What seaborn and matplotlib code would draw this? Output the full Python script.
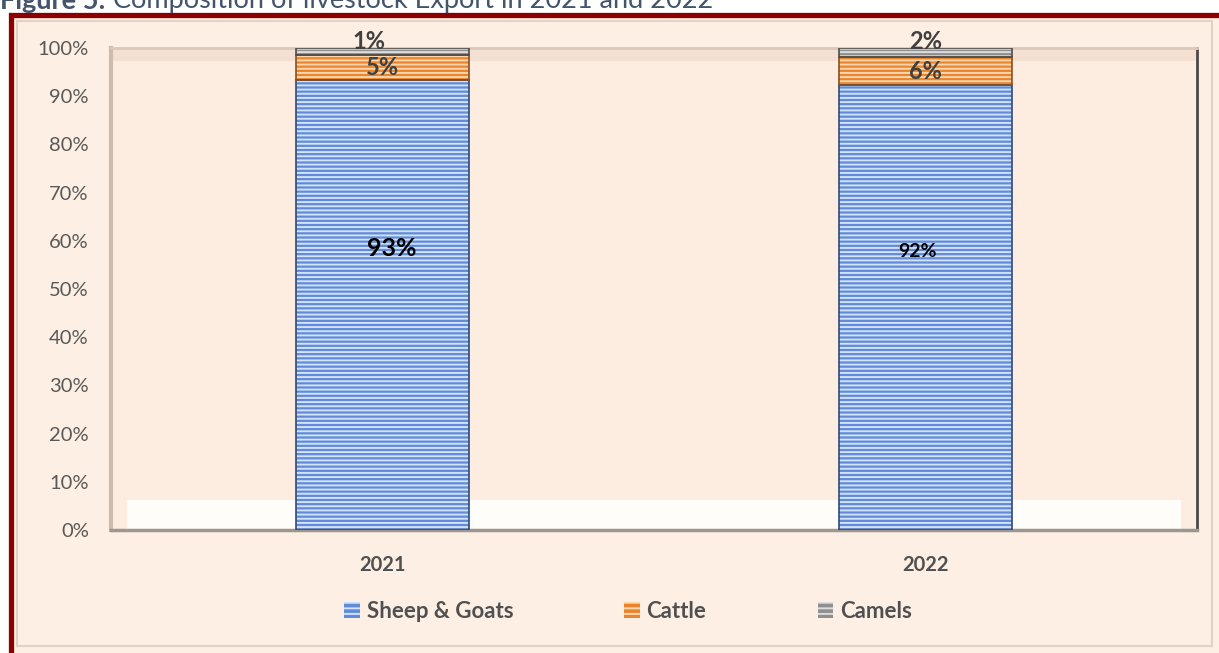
import matplotlib
matplotlib.use("Agg")
import matplotlib.pyplot as plt
import seaborn as sns
from matplotlib.patches import Rectangle, Patch

# ---------------- data ----------------
years = ["2021", "2022"]
series = ["Sheep & Goats", "Cattle", "Camels"]
sheep_goats = [93.4, 92.3]
cattle = [5.2, 5.9]
camels = [1.4, 1.8]
y_ticks = [0, 10, 20, 30, 40, 50, 60, 70, 80, 90, 100]
y_tick_labels = [f"{t}%" for t in y_ticks]
title_bold = "Figure 5:"
title_rest = "Composition of livestock Export in 2021 and 2022"

# ---------------- style ----------------
sns.set_style("white")
plt.rcParams["font.family"] = ["Lato", "DejaVu Sans"]
plt.rcParams["hatch.linewidth"] = 1.4

W, H = 1219, 653
def fx(px):
    return px / W
def fy(py):
    return 1 - py / H

face_cols = ["#5F8BD8", "#E8852F", "#8F8F8F"]
stripe_cols = ["#D3E2F9", "#FDD6AE", "#DCDCDC"]
outline_cols = ["#2F4A78", "#8A4E1E", "#4D4D4D"]
HATCH = "----"
BAR_W = 0.317
TXT = "#595959"

fig = plt.figure(figsize=(W / 100, H / 100), dpi=100, facecolor="white")

# outer dark red frame with beige panel
fig.patches.append(Rectangle((fx(10.5), -0.2), 1.3, fy(15) + 0.2, transform=fig.transFigure,
                             facecolor="#FDEFE3", edgecolor="#8B0000", linewidth=3.8, zorder=-2))
fig.patches.append(Rectangle((fx(17), fy(646)), fx(1212) - fx(17), fy(21) - fy(646),
                             transform=fig.transFigure, facecolor="none",
                             edgecolor="#E2D2C6", linewidth=1.5, zorder=-1))

ax = fig.add_axes([fx(111), fy(530), fx(1197) - fx(111), fy(48) - fy(530)])
ax.set_facecolor("#FCEDE0")
# floor and top bevel of the 3-D plot area
ax.axhspan(0, 6.2, xmin=0.015, xmax=0.985, color="#FFFDF9", zorder=0.2, lw=0)
ax.axhspan(97.2, 100, xmin=0.0, xmax=1.0, color="#F4E0D2", zorder=0.2, lw=0)

bottoms = [0.0] * len(years)
layers = [sheep_goats, cattle, camels]
for i, vals in enumerate(layers):
    sns.barplot(x=years, y=vals, bottom=bottoms, color=face_cols[i], saturation=1,
                width=BAR_W, edgecolor=stripe_cols[i], linewidth=0, hatch=HATCH,
                ax=ax, zorder=2)
    ax.bar(range(len(years)), vals, bottom=bottoms, width=BAR_W, fill=False,
           edgecolor=outline_cols[i], linewidth=1.2, zorder=3)
    bottoms = [b + v for b, v in zip(bottoms, vals)]

# data labels
tops = [s + c for s, c in zip(sheep_goats, cattle)]
for j in range(len(years)):
    ax.annotate(f"{sheep_goats[j]:.0f}%", xy=(j, sheep_goats[j] * 0.625), xytext=([7, -6][j], 0),
                textcoords="offset points", ha="center", va="center",
                fontsize=[18, 14][j], fontweight="bold", color="black", zorder=5)
    ax.annotate(f"{cattle[j]:.0f}%", xy=(j, sheep_goats[j] + cattle[j] / 2), xytext=(0, -0.5),
                textcoords="offset points", ha="center", va="center",
                fontsize=17, fontweight="bold", color="#404040", zorder=5)
    ax.annotate(f"{camels[j]:.0f}%", xy=(j, tops[j] + camels[j]), xytext=([-10, 0][j], 5),
                textcoords="offset points", ha="center", va="center",
                fontsize=17, fontweight="bold", color="#404040", zorder=5, annotation_clip=False)

ax.set_ylim(0, 100)
ax.set_xlim(-0.5, 1.5)
ax.set_yticks(y_ticks)
ax.set_yticklabels(y_tick_labels, fontsize=14.5, color=TXT)
ax.tick_params(axis="y", length=0, pad=16)
ax.tick_params(axis="x", length=0, pad=18, labelsize=14.5, labelcolor="#505050")
for lab in ax.get_xticklabels():
    lab.set_fontweight("bold")
ax.set_xlabel("")
ax.set_ylabel("")
for side, col, lw in [("left", "#CDBBAE", 3), ("bottom", "#9E9690", 2.5),
                      ("right", "#4A4A4A", 2), ("top", "#DCC8BA", 2)]:
    ax.spines[side].set_visible(True)
    ax.spines[side].set_color(col)
    ax.spines[side].set_linewidth(lw)

# legend
handles = [Patch(facecolor=face_cols[i], edgecolor=stripe_cols[i], hatch="---", linewidth=0)
           for i in range(len(series))]
fig.legend(handles, series, loc="center", bbox_to_anchor=(fx(628), fy(611)), ncol=3,
           frameon=False, prop={"weight": "bold", "size": 16}, labelcolor="#505050",
           handlelength=0.7, handleheight=0.7, handletextpad=0.3, columnspacing=5.0)

# title (partially cut off at the top, as in the source)
t1 = fig.text(fx(0), fy(9), title_bold, fontsize=19.5, fontweight="bold", color="#44546A",
              ha="left", va="baseline")
ax.annotate(" " + title_rest, xy=(1, 0), xycoords=t1, ha="left", va="bottom",
            fontsize=19.5, color="#44546A", annotation_clip=False)

fig.savefig("out.png", dpi=100, facecolor="white")
